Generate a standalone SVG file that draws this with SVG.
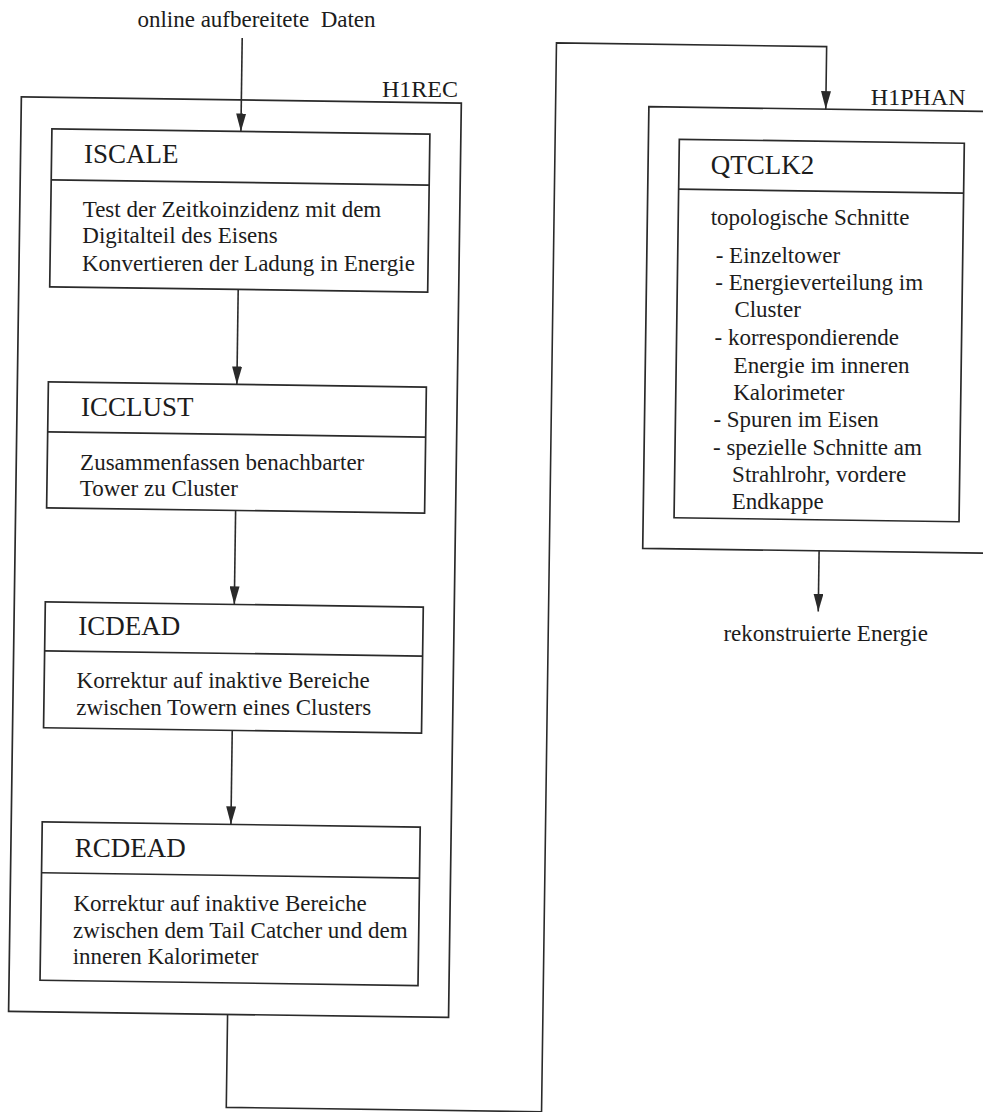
<svg xmlns="http://www.w3.org/2000/svg" width="983" height="1112" viewBox="0 0 983 1112">
<style>
.bg{fill:#ffffff}
.box{fill:none;stroke:#2a2a2a;stroke-width:1.7}
.ln{fill:none;stroke:#2a2a2a;stroke-width:1.6}
text{font-family:"Liberation Serif","Times New Roman",serif;fill:#1c1c1c}
.t{font-size:23px}
.h{font-size:27px}
.lbl{font-size:24px}
</style>
<defs>
<marker id="arr" markerUnits="userSpaceOnUse" viewBox="0 0 18 10" markerWidth="18" markerHeight="10" refX="18" refY="5" orient="auto">
<path d="M0,0 L18,5 L0,10 z" fill="#2a2a2a"/>
</marker>
</defs>
<rect class="bg" x="0" y="0" width="983" height="1112"/>
<g id="input-label"><text class="t" x="137.4" y="26.6" style="white-space:pre">online aufbereitete  Daten</text></g>
<g id="H1REC">
<rect class="box" x="15" y="103.5" width="440" height="914.5" transform="rotate(0.8 490 556)"/>
<text class="lbl" x="381.9" y="97.4">H1REC</text>
</g>
<g id="ISCALE">
<g transform="rotate(0.8 490 556)">
<rect class="box" x="46" y="135" width="378" height="158"/>
<line class="box" x1="46" y1="186" x2="424" y2="186"/>
</g>
<text class="h" x="83.9" y="162.9">ISCALE</text>
<text class="t" x="82.7" y="217.3">Test der Zeitkoinzidenz mit dem</text>
<text class="t" x="82.3" y="243.3">Digitalteil des Eisens</text>
<text class="t" x="81.9" y="270.6">Konvertieren der Ladung in Energie</text>
</g>
<g id="ICCLUST">
<g transform="rotate(0.8 490 556)">
<rect class="box" x="46" y="388" width="378" height="126"/>
<line class="box" x1="46" y1="438" x2="424" y2="438"/>
</g>
<text class="h" x="80.9" y="416.1">ICCLUST</text>
<text class="t" x="80.1" y="470">Zusammenfassen benachbarter</text>
<text class="t" x="79.8" y="496">Tower zu Cluster</text>
</g>
<g id="ICDEAD">
<g transform="rotate(0.8 490 556)">
<rect class="box" x="46" y="608" width="378" height="126"/>
<line class="box" x1="46" y1="657" x2="424" y2="657"/>
</g>
<text class="h" x="78.2" y="635">ICDEAD</text>
<text class="t" x="76.6" y="688.3">Korrektur auf inaktive Bereiche</text>
<text class="t" x="76.2" y="715.3">zwischen Towern eines Clusters</text>
</g>
<g id="RCDEAD">
<g transform="rotate(0.8 490 556)">
<rect class="box" x="46" y="828" width="378" height="158.5"/>
<line class="box" x1="46" y1="879" x2="424" y2="879"/>
</g>
<text class="h" x="74.7" y="856.5">RCDEAD</text>
<text class="t" x="73.5" y="910.8">Korrektur auf inaktive Bereiche</text>
<text class="t" x="73.1" y="937.6">zwischen dem Tail Catcher und dem</text>
<text class="t" x="72.7" y="964">inneren Kalorimeter</text>
</g>
<g id="H1PHAN">
<path class="box" d="M1030,104.5 H642.6 V546.2 H1030" transform="rotate(0.8 490 556)"/>
<text class="lbl" x="870.8" y="104.6">H1PHAN</text>
</g>
<g id="QTCLK2">
<g transform="rotate(0.8 490 556)">
<rect class="box" x="673.5" y="136.7" width="285" height="378.5"/>
<line class="box" x1="673.5" y1="186.6" x2="958.5" y2="186.6"/>
</g>
<text class="h" x="710.7" y="173.7">QTCLK2</text>
<text class="t" x="710.7" y="225.4">topologische Schnitte</text>
<text class="t" x="715.7" y="262.6">- Einzeltower</text>
<text class="t" x="715.3" y="290.4">- Energieverteilung im</text>
<text class="t" x="734.4" y="317.2">Cluster</text>
<text class="t" x="714.5" y="344.9">- korrespondierende</text>
<text class="t" x="733.6" y="372.6">Energie im inneren</text>
<text class="t" x="733.2" y="399.6">Kalorimeter</text>
<text class="t" x="713.4" y="427.3">- Spuren im Eisen</text>
<text class="t" x="713" y="455.1">- spezielle Schnitte am</text>
<text class="t" x="732.1" y="482.1">Strahlrohr, vordere</text>
<text class="t" x="731.7" y="509.2">Endkappe</text>
</g>
<g id="output-label"><text class="t" x="723.4" y="641.4">rekonstruierte Energie</text></g>
<g id="connectors" transform="rotate(0.8 490 556)">
<path class="ln" d="M235,41.5 V135" marker-end="url(#arr)"/>
<path class="ln" d="M234.5,293 V388" marker-end="url(#arr)"/>
<path class="ln" d="M235,514 V608" marker-end="url(#arr)"/>
<path class="ln" d="M234.7,734 V828" marker-end="url(#arr)"/>
<path class="ln" d="M234,1018 V1111 H549.3 V42 H819.5 V104.5" marker-end="url(#arr)"/>
<path class="ln" d="M819,546.2 V607" marker-end="url(#arr)"/>
</g>
</svg>
